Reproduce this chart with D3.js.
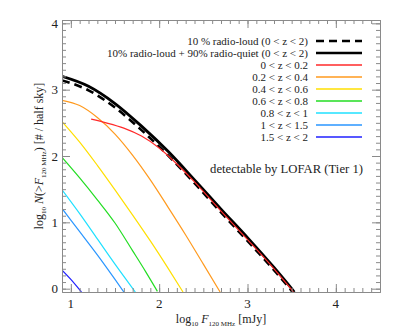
<!DOCTYPE html>
<html>
<head>
<meta charset="utf-8">
<script src="https://cdn.jsdelivr.net/npm/d3@7"></script>
<style>
body { margin:0; background:#fff; }
text { font-family: "Liberation Serif", "Times New Roman", serif; fill:#222; }
.axis path, .axis line { stroke:#8a8a8a; }
</style>
</head>
<body>
<svg id="chart" width="399" height="332"></svg>
<script>
// log10 F (mJy) / log10 N values
const solidF  = [0.9, 1.2, 1.5, 1.8, 2.1, 2.4, 2.7, 3.0, 3.3, 3.5, 3.53]
const solidN  = [3.20, 3.05, 2.79, 2.45, 2.07, 1.64, 1.20, 0.77, 0.32, 0.0, -0.05]
const dashF   = [0.9, 1.2, 1.5, 1.8, 2.1, 2.4, 2.7, 3.0, 3.3, 3.48, 3.51]
const dashN   = [3.14, 2.99, 2.73, 2.39, 2.01, 1.59, 1.15, 0.72, 0.28, 0.0, -0.05]
const redF    = [1.23, 1.4, 1.6, 1.8, 2.0, 2.2, 2.4, 2.7, 3.0, 3.3, 3.49, 3.52]
const redN    = [2.555, 2.50, 2.42, 2.30, 2.12, 1.88, 1.61, 1.17, 0.74, 0.30, 0.0, -0.05]
const orangeF = [0.9, 1.1, 1.3, 1.5, 1.7, 1.9, 2.1, 2.3, 2.5, 2.69]
const orangeN = [2.84, 2.76, 2.58, 2.33, 2.01, 1.64, 1.23, 0.81, 0.37, -0.05]
const yellowF = [0.9, 1.1, 1.3, 1.5, 1.7, 1.9, 2.1, 2.27]
const yellowN = [2.52, 2.21, 1.86, 1.49, 1.11, 0.72, 0.31, -0.05]
const greenF  = [0.9, 1.1, 1.3, 1.5, 1.7, 1.85, 1.98]
const greenN  = [1.98, 1.67, 1.34, 0.99, 0.57, 0.25, -0.04]
const cyanF   = [0.9, 1.1, 1.3, 1.5, 1.73]
const cyanN   = [1.49, 1.13, 0.75, 0.37, -0.05]
const dodgerF = [0.9, 1.1, 1.3, 1.5, 1.60]
const dodgerN = [1.21, 0.86, 0.51, 0.14, -0.05]
const blueF   = [0.9, 1.0, 1.12]
const blueN   = [0.28, 0.14, -0.05]

const legendLabels = ["10 % radio-loud (0 < z < 2)", "10% radio-loud + 90% radio-quiet (0 < z < 2)",
  "0 < z < 0.2", "0.2 < z < 0.4", "0.4 < z < 0.6", "0.6 < z < 0.8", "0.8 < z < 1", "1 < z < 1.5", "1.5 < z < 2"]
const xTicks = [1, 2, 3, 4]
const yTicks = [0, 1, 2, 3, 4]

let svg = d3.select("#chart")
let mLeft = 62, mRight = 380, mTop = 20, mBottom = 292

let xScale = d3.scaleLinear().domain([0.9, 4.5]).range([mLeft, mRight])
let yScale = d3.scaleLinear().domain([-0.05, 4.05]).range([mBottom, mTop])

svg.append("clipPath").attr("id", "clip")
  .append("rect").attr("x", mLeft).attr("y", mTop).attr("width", mRight - mLeft).attr("height", mBottom - mTop)

let series = [
  {F: dashF, N: dashN, color: "#000", width: 2.6, dash: "8,5"},
  {F: solidF, N: solidN, color: "#000", width: 2.8, dash: null},
  {F: redF, N: redN, color: "#ff2a2a", width: 1.2, dash: null},
  {F: orangeF, N: orangeN, color: "#ff9a1e", width: 1.2, dash: null},
  {F: yellowF, N: yellowN, color: "#ffdf00", width: 1.2, dash: null},
  {F: greenF, N: greenN, color: "#22dd22", width: 1.2, dash: null},
  {F: cyanF, N: cyanN, color: "#1fe0ff", width: 1.2, dash: null},
  {F: dodgerF, N: dodgerN, color: "#2a96ff", width: 1.2, dash: null},
  {F: blueF, N: blueN, color: "#2020ff", width: 1.2, dash: null}
]

let line = d3.line().x(d => xScale(d[0])).y(d => yScale(d[1])).curve(d3.curveMonotoneX)

let plot = svg.append("g").attr("clip-path", "url(#clip)")
// draw colored first, then the black ones on top, red last to peek through
let order = [3, 4, 5, 6, 7, 8, 0, 1, 2]
order.forEach(function (k) {
  let s = series[k]
  plot.append("path")
    .datum(d3.zip(s.F, s.N))
    .attr("fill", "none")
    .attr("stroke", s.color)
    .attr("stroke-width", s.width)
    .attr("stroke-dasharray", s.dash)
    .attr("d", line)
})

// axes: IDL style box, ticks pointing in
let minorX = d3.range(9, 46).map(d => d / 10)
let minorY = d3.range(0, 41).map(d => d / 10)

function addAxis(gen, tf) {
  svg.append("g").attr("class", "axis").attr("transform", tf).call(gen)
    .call(g => g.selectAll("text").remove())
}
addAxis(d3.axisBottom(xScale).tickValues(minorX).tickSize(-4).tickSizeOuter(0), `translate(0,${mBottom})`)
addAxis(d3.axisBottom(xScale).tickValues(xTicks).tickSize(-8).tickSizeOuter(0), `translate(0,${mBottom})`)
addAxis(d3.axisTop(xScale).tickValues(minorX).tickSize(-4).tickSizeOuter(0), `translate(0,${mTop})`)
addAxis(d3.axisTop(xScale).tickValues(xTicks).tickSize(-8).tickSizeOuter(0), `translate(0,${mTop})`)
addAxis(d3.axisLeft(yScale).tickValues(minorY).tickSize(-4).tickSizeOuter(0), `translate(${mLeft},0)`)
addAxis(d3.axisLeft(yScale).tickValues(yTicks).tickSize(-8).tickSizeOuter(0), `translate(${mLeft},0)`)
addAxis(d3.axisRight(yScale).tickValues(minorY).tickSize(-4).tickSizeOuter(0), `translate(${mRight},0)`)
addAxis(d3.axisRight(yScale).tickValues(yTicks).tickSize(-8).tickSizeOuter(0), `translate(${mRight},0)`)
svg.selectAll(".axis .domain").attr("stroke", "#8a8a8a")

// tick labels
svg.selectAll(".xlab").data(xTicks).enter().append("text")
  .attr("x", d => xScale(d)).attr("y", mBottom + 16)
  .attr("text-anchor", "middle").attr("font-size", 13).text(d => d)
svg.selectAll(".ylab").data(yTicks).enter().append("text")
  .attr("x", mLeft - 4).attr("y", d => yScale(d) + 4.5)
  .attr("text-anchor", "end").attr("font-size", 13).text(d => d)

// x label
let xl = svg.append("text").attr("x", (mLeft + mRight) / 2).attr("y", 323)
  .attr("text-anchor", "middle").attr("font-size", 12)
xl.append("tspan").text("log")
xl.append("tspan").attr("font-size", 7).attr("dy", 3).text("10")
xl.append("tspan").attr("dy", -3).attr("font-style", "italic").text(" F")
xl.append("tspan").attr("font-size", 7).attr("dy", 3).text("120 MHz")
xl.append("tspan").attr("dy", -3).text(" [mJy]")

// y label
let yl = svg.append("text")
  .attr("transform", `translate(43,${(mTop + mBottom) / 2}) rotate(-90)`)
  .attr("text-anchor", "middle").attr("font-size", 12)
yl.append("tspan").text("log")
yl.append("tspan").attr("font-size", 7).attr("dy", 3).text("10")
yl.append("tspan").attr("dy", -3).attr("font-style", "italic").text(" N")
yl.append("tspan").text("(>")
yl.append("tspan").attr("font-style", "italic").text("F")
yl.append("tspan").attr("font-size", 7).attr("dy", 3).text("120 MHz")
yl.append("tspan").attr("dy", -3).text(") [# / half sky]")

// legend
let legendColor = ["#000", "#000"].concat(series.slice(2).map(s => s.color))
legendLabels.forEach(function (d, i) {
  let ly = 41 + i * 12
  svg.append("text").attr("x", 308).attr("y", ly + 4)
    .attr("text-anchor", "end").attr("font-size", 11).text(d)
  svg.append("line").attr("x1", 316).attr("x2", 362).attr("y1", ly).attr("y2", ly)
    .attr("stroke", legendColor[i])
    .attr("stroke-width", i < 2 ? 2.6 : 1.3)
    .attr("stroke-dasharray", i == 0 ? "8,5" : null)
})

svg.append("text").attr("x", 363).attr("y", 173)
  .attr("text-anchor", "end").attr("font-size", 12.7).text("detectable by LOFAR (Tier 1)")
</script>
</body>
</html>
